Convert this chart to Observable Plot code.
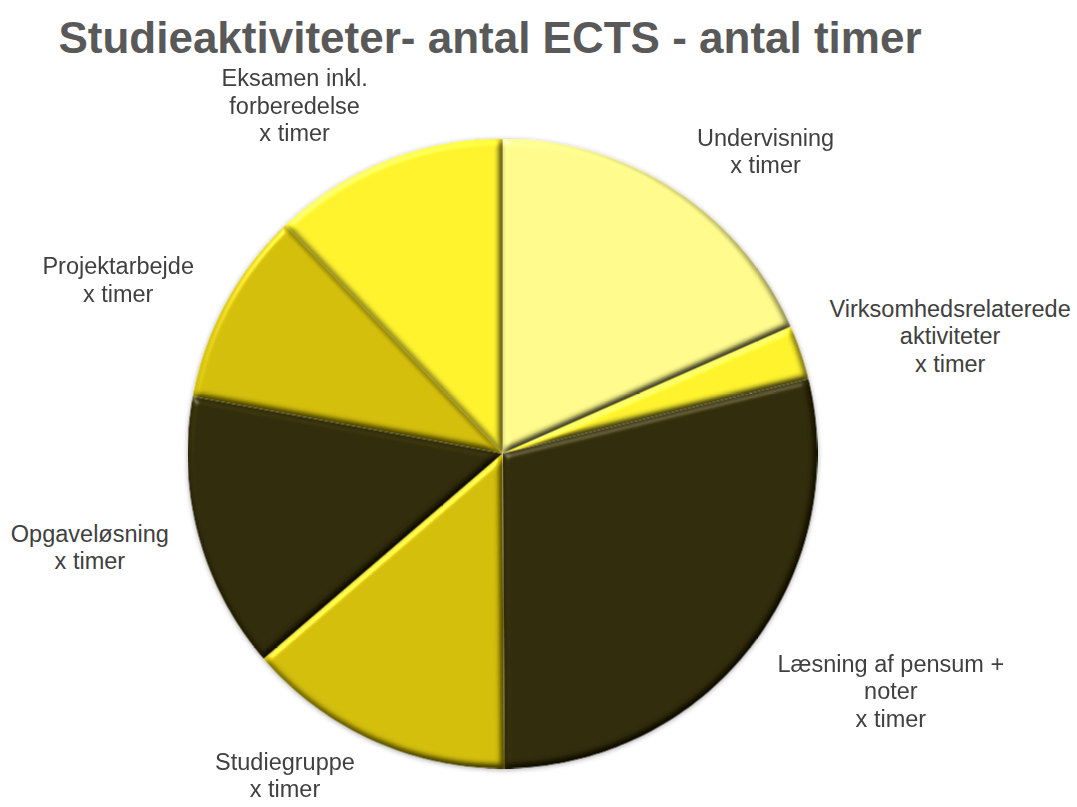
<!DOCTYPE html>
<html>
<head>
<meta charset="utf-8">
<script src="https://cdn.jsdelivr.net/npm/d3@7"></script>
<script src="https://cdn.jsdelivr.net/npm/@observablehq/plot@0.6"></script>
<style>
  html, body { margin: 0; padding: 0; background: #ffffff; }
  #wrap { position: relative; width: 1077px; height: 807px; overflow: hidden; }
  #title { position: absolute; left: 0; top: 0; width: 980px; height: 75px; text-align: center;
           font-family: "Liberation Sans", Arial, sans-serif; font-weight: bold; font-size: 44px;
           color: #595959; line-height: 75px; }
  #chart { position: absolute; left: 0; top: 75px; }
</style>
</head>
<body>
<div id="wrap">
  <div id="title">Studieaktiviteter- antal ECTS - antal timer</div>
  <div id="chart"></div>
</div>
<script>
// ---- data ----
const categories = ["Undervisning", "Virksomhedsrelaterede aktiviteter", "Læsning af pensum + noter", "Studiegruppe", "Opgaveløsning", "Projektarbejde", "Eksamen inkl. forberedelse"];
const shares = [18.4, 2.8, 28.7, 13.8, 14.2, 10.0, 12.1];
const labelTexts = [
  "Undervisning\nx timer",
  "Virksomhedsrelaterede\naktiviteter\nx timer",
  "Læsning af pensum +\nnoter\nx timer",
  "Studiegruppe\nx timer",
  "Opgaveløsning\nx timer",
  "Projektarbejde\nx timer",
  "Eksamen inkl.\nforberedelse\nx timer"
];
const sliceColors = ["#FFFB8C", "#FFF22E", "#322C08", "#D3BE08", "#322C08", "#D3BE08", "#FFF22E"];

// ---- layout ----
const W = 1077, H = 732, CX = 502, CY = 378, R = 315;
// label placement: polar (degrees clockwise from 12 o'clock, distance in px)
const labelAngle = [41, 75.2, 121.4, 214.1, 257.3, 294.4, 329.2];
const labelDist = [401, 463, 455, 388, 423, 422, 406].map(d => d / R);

const arcs = d3.pie().sort(null).value(d => d)(shares);
const slicePts = [];
arcs.forEach((a, i) => {
  slicePts.push({cat: categories[i], x: 0, y: 0});
  const n = Math.max(4, Math.ceil((a.endAngle - a.startAngle) / (Math.PI / 180)));
  for (let k = 0; k <= n; k++) {
    const t = a.startAngle + (a.endAngle - a.startAngle) * k / n;
    slicePts.push({cat: categories[i], x: Math.sin(t), y: Math.cos(t)});
  }
});
const labels = categories.map((c, i) => {
  const t = labelAngle[i] * Math.PI / 180;
  return {cat: c, text: labelTexts[i], x: Math.sin(t) * labelDist[i], y: Math.cos(t) * labelDist[i]};
});

const plot = Plot.plot({
  width: W, height: H,
  margin: 0,
  x: {domain: [-CX / R, (W - CX) / R], axis: null},
  y: {domain: [-(H - CY) / R, CY / R], axis: null},
  color: {domain: categories, range: sliceColors},
  style: {background: "#ffffff", overflow: "visible"},
  marks: [
    Plot.line(slicePts, {x: "x", y: "y", z: "cat", fill: "cat", stroke: "none", curve: "linear-closed", className: "slices"}),
    Plot.text(labels, {x: "x", y: "y", text: "text", fill: "#404040", fontSize: 23.5, lineHeight: 1.17,
      fontFamily: "Liberation Sans, Arial, sans-serif", textAnchor: "middle", lineAnchor: "middle"})
  ]
});

// bevel effect on each slice
const ns = "http://www.w3.org/2000/svg";
const defs = document.createElementNS(ns, "defs");
defs.innerHTML = `
<filter id="bevel" x="-10%" y="-10%" width="120%" height="120%" color-interpolation-filters="sRGB">
  <feGaussianBlur in="SourceAlpha" stdDeviation="3.5" result="blur"/>
  <feDiffuseLighting in="blur" surfaceScale="5" diffuseConstant="1.155" lighting-color="#ffffff" result="diff">
    <feDistantLight azimuth="235" elevation="60"/>
  </feDiffuseLighting>
  <feComposite in="SourceGraphic" in2="diff" operator="arithmetic" k1="1" k2="0" k3="0" k4="0" result="shaded"/>
  <feSpecularLighting in="blur" surfaceScale="5" specularConstant="0.8" specularExponent="25" lighting-color="#ffffff" result="spec">
    <feDistantLight azimuth="235" elevation="22"/>
  </feSpecularLighting>
  <feComposite in="spec" in2="SourceAlpha" operator="in" result="specIn"/>
  <feComposite in="shaded" in2="specIn" operator="arithmetic" k1="0" k2="1" k3="0.4" k4="0" result="lit"/>
  <feComposite in="lit" in2="SourceAlpha" operator="in"/>
</filter>
<filter id="shadow" x="-10%" y="-10%" width="120%" height="120%">
  <feDropShadow dx="0" dy="1" stdDeviation="2.5" flood-color="#000" flood-opacity="0.35"/>
</filter>`;
plot.insertBefore(defs, plot.firstChild);
const g = plot.querySelector("g.slices");
if (g) {
  g.setAttribute("filter", "url(#shadow)");
  g.querySelectorAll("path").forEach(p => p.setAttribute("filter", "url(#bevel)"));
}
document.getElementById("chart").appendChild(plot);
</script>
</body>
</html>
